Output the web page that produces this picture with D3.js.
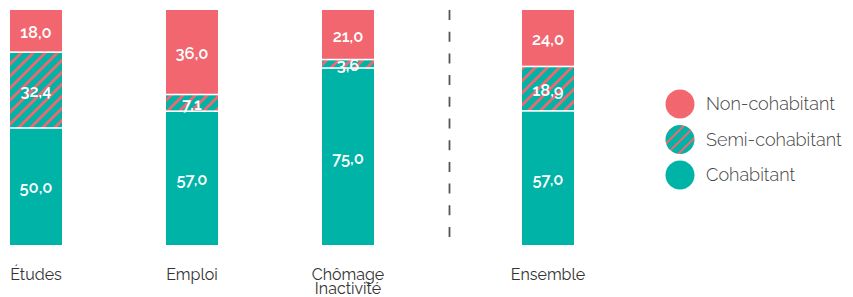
<!DOCTYPE html>
<html>
<head>
<meta charset="utf-8" />
<title>Cohabitation</title>
<script src="https://d3js.org/d3.v7.min.js"></script>
<style>
body { margin: 0; background: #fff; }
svg { display: block; font-family: Raleway, Lato, sans-serif; }
.val { fill: #fff; font-size: 16.5px; font-weight: 600; text-anchor: middle; }
.cat { fill: #333; font-size: 16px; text-anchor: middle; }
.leg { fill: #444; font-size: 18px; font-weight: 300; }
</style>
</head>
<body>
<div id="chart"></div>
<script>
// data
var categories = ["Études", "Emploi", "Chômage\nInactivité", "Ensemble"];
var cohabitant = [50.0, 57.0, 75.0, 57.0];
var semiCohabitant = [32.4, 7.1, 3.6, 18.9];
var nonCohabitant = [18.0, 36.0, 21.0, 24.0];
var seriesNames = ["Non-cohabitant", "Semi-cohabitant", "Cohabitant"];

var width = 853, height = 297;
var red = "#f2666f", teal = "#00b3a7";

var svg = d3.select("#chart").append("svg")
    .attr("width", width).attr("height", height);

/* hatched fills for semi-cohabitant (bars and legend) */
var defs = svg.append("defs");
function hatch(id, size, lw) {
    var p = defs.append("pattern")
        .attr("id", id)
        .attr("patternUnits", "userSpaceOnUse")
        .attr("width", size).attr("height", size)
        .attr("patternTransform", "rotate(45)");
    p.append("rect").attr("width", size).attr("height", size).attr("fill", teal);
    p.append("line").attr("x1", lw / 2).attr("x2", lw / 2).attr("y1", 0).attr("y2", size)
        .attr("stroke", red).attr("stroke-width", lw);
}
hatch("hatch", 8.5, 2.8);
hatch("hatchLeg", 8, 2);

var fills = { "Cohabitant": teal, "Semi-cohabitant": "url(#hatch)", "Non-cohabitant": red };
var legFills = { "Cohabitant": teal, "Semi-cohabitant": "url(#hatchLeg)", "Non-cohabitant": red };

/* bars sit on slots; the last one comes after the divider */
var barW = 52, step = 156, extraGap = 44;
var slot = d3.scaleLinear().domain([0, 1]).range([36, 36 + step]);
function cx(i) { return slot(i) + (i >= 3 ? extraGap : 0); }

var plotTop = 10, plotBottom = 245;

var rows = categories.map(function(c, i) {
    return { cat: c, i: i,
        "Cohabitant": cohabitant[i],
        "Semi-cohabitant": semiCohabitant[i],
        "Non-cohabitant": nonCohabitant[i] };
});

var stack = d3.stack().keys(["Cohabitant", "Semi-cohabitant", "Non-cohabitant"]);
var layers = stack(rows);

var bars = svg.append("g");
var labels = svg.append("g");
layers.forEach(function(layer) {
    layer.forEach(function(seg) {
        var d = seg.data;
        var total = d["Cohabitant"] + d["Semi-cohabitant"] + d["Non-cohabitant"];
        var y = d3.scaleLinear().domain([0, total]).range([plotBottom, plotTop]);
        var y0 = y(seg[0]), y1 = y(seg[1]);
        var gapTop = layer.key == "Non-cohabitant" ? 0 : 0.8;
        var gapBot = layer.key == "Cohabitant" ? 0 : 0.8;
        bars.append("rect")
            .attr("x", cx(d.i) - barW / 2)
            .attr("y", y1 + gapTop)
            .attr("width", barW)
            .attr("height", Math.max(0, y0 - y1 - gapTop - gapBot))
            .attr("fill", fills[layer.key]);
        labels.append("text").attr("class", "val")
            .attr("x", cx(d.i))
            .attr("y", (y0 + y1) / 2 + 7)
            .text(d3.format(".1f")(d[layer.key]).replace(".", ","));
    });
});

/* divider */
svg.append("line")
    .attr("x1", 449.5).attr("x2", 449.5)
    .attr("y1", plotTop).attr("y2", plotBottom)
    .attr("stroke", "#555").attr("stroke-width", 1.8)
    .attr("stroke-dasharray", "10,11.7");

/* category labels */
categories.forEach(function(c, i) {
    var t = svg.append("text").attr("class", "cat")
        .attr("x", cx(i)).attr("y", 280);
    c.split("\n").forEach(function(line, k) {
        t.append("tspan").attr("x", cx(i)).attr("dy", k ? 13.5 : 0).text(line);
    });
});

/* legend */
var leg = svg.append("g").attr("transform", "translate(680,104)");
seriesNames.forEach(function(name, k) {
    var g = leg.append("g").attr("transform", "translate(0," + (k * 35.5) + ")");
    g.append("circle").attr("r", 14.5).attr("fill", legFills[name]);
    g.append("text").attr("class", "leg").attr("x", 26).attr("y", 6).text(name);
});
</script>
</body>
</html>
